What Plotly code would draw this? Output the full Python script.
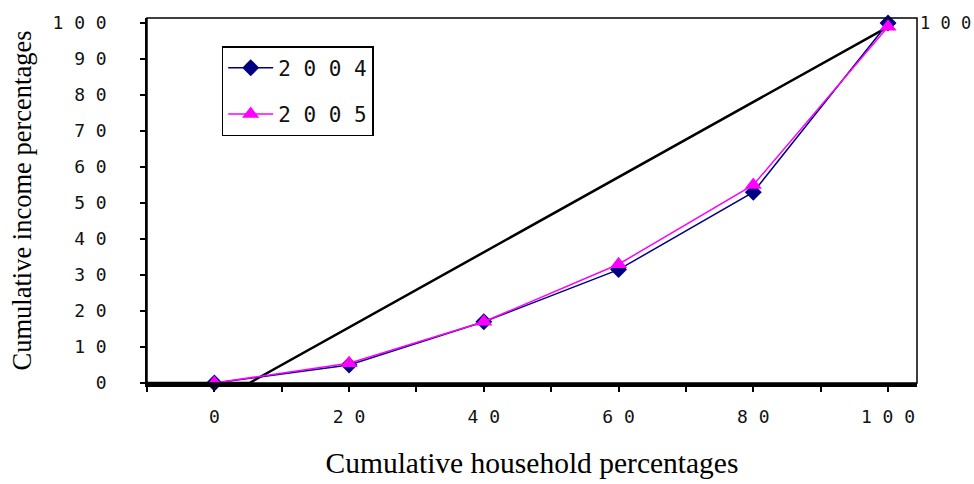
import plotly.graph_objects as go

households = [0, 20, 40, 60, 80, 100]
income_2004 = [0, 5, 17, 31.5, 53, 100]
income_2005 = [0, 5.5, 17, 33, 55, 99]
equality_x = [-10, 5.2, 101]
equality_y = [0, 0, 100]

x_tickvals = [0, 20, 40, 60, 80, 100]
x_ticktext = ["0", "2 0", "4 0", "6 0", "8 0", "1 0 0"]
y_tickvals = [0, 10, 20, 30, 40, 50, 60, 70, 80, 90, 100]
y_ticktext = ["0", "1 0", "2 0", "3 0", "4 0", "5 0", "6 0", "7 0", "8 0", "9 0", "1 0 0"]

mono = "DejaVu Sans Mono"
serif = "Liberation Serif"

fig = go.Figure()
fig.add_trace(go.Scatter(
    x=equality_x, y=equality_y, mode="lines",
    line=dict(color="black", width=2.5), showlegend=False, cliponaxis=False,
    hoverinfo="skip"))
fig.add_trace(go.Scatter(
    x=households, y=income_2004, mode="lines+markers", name="2 0 0 4",
    line=dict(color="#000080", width=1.5),
    marker=dict(symbol="diamond", size=13, color="#000080"),
    cliponaxis=False, legendgroup="a"))
fig.add_trace(go.Scatter(
    x=households, y=income_2005, mode="lines+markers", name="2 0 0 5",
    line=dict(color="#FF00FF", width=1.5),
    marker=dict(symbol="triangle-up", size=15, color="#FF00FF"),
    cliponaxis=False, legendgroup="b"))

fig.add_shape(type="rect", xref="paper", yref="paper", x0=0, x1=1, y0=0, y1=1,
              line=dict(color="black", width=1.5), layer="above")

fig.add_annotation(xref="paper", yref="y", x=1, y=100, xanchor="left", yanchor="middle",
                   text="1 0 0", showarrow=False, xshift=1,
                   font=dict(family=mono, size=17, color="#111"))

fig.update_layout(
    width=974, height=484,
    margin=dict(l=147, r=57, t=14, b=101),
    paper_bgcolor="white", plot_bgcolor="white",
    showlegend=True,
    legend=dict(x=0.097, y=0.923, xanchor="left", yanchor="top",
                bordercolor="black", borderwidth=1.5, bgcolor="white",
                font=dict(family=mono, size=21, color="#111"),
                itemwidth=45,
                traceorder="grouped", tracegroupgap=16),
    xaxis=dict(range=[-10, 104.3], tickvals=x_tickvals, ticktext=x_ticktext,
               ticks="outside", ticklen=5, tickwidth=1.5, tickcolor="black",
               minor=dict(dtick=10, tick0=-10, ticks="outside", ticklen=5,
                          tickwidth=1.5, tickcolor="black"),
               showline=True, linecolor="black", linewidth=3.5,
               showgrid=False, zeroline=False, ticklabelstandoff=10,
               automargin=False,
               tickfont=dict(family=mono, size=18, color="#111"),
               title=dict(text="Cumulative household percentages",
                          font=dict(family=serif, size=29.5, color="black"),
                          standoff=27)),
    yaxis=dict(range=[0, 101.4], tickvals=y_tickvals, ticktext=y_ticktext,
               ticks="outside", ticklen=5, tickwidth=1.5, tickcolor="black",
               showline=True, linecolor="black", linewidth=1.5,
               showgrid=False, zeroline=False, ticklabelstandoff=30,
               tickfont=dict(family=mono, size=18, color="#111"),
               title=dict(text="Cumulative income percentages",
                          font=dict(family=serif, size=26.5, color="black"),
                          standoff=13)),
)

fig.write_html("out.html")
